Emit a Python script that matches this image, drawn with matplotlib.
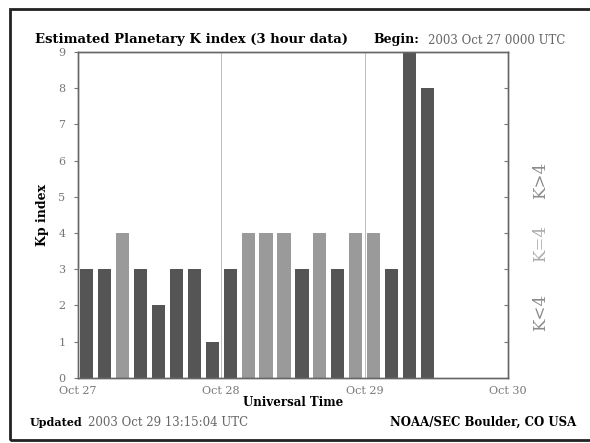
import matplotlib
matplotlib.use("Agg")
import matplotlib.pyplot as plt
import matplotlib.patches as mpatches

# ── DATA ──────────────────────────────────────────────────────────────────────
kp_values = [3, 3, 4, 3, 2, 3, 3, 1,
             3, 4, 4, 4, 3, 4, 3, 4,
             4, 3, 9, 8]
day_labels = ["Oct 27", "Oct 28", "Oct 29", "Oct 30"]
y_ticks = [0, 1, 2, 3, 4, 5, 6, 7, 8, 9]

# ── COLOURS ───────────────────────────────────────────────────────────────────
C_LOW = "#555555"    # K < 4
C_EQ = "#9a9a9a"     # K = 4
C_HIGH = "#555555"   # K > 4
C_TICK = "#777777"

plt.rcParams["font.family"] = ["DejaVu Serif"]

fig = plt.figure(figsize=(5.9, 4.43), dpi=100)
fig.patch.set_facecolor("white")
ax = fig.add_axes([0.132, 0.147, 0.729, 0.736])

# bars: 8 per day, x in days from Oct 27 00 UT
slot = 1.0 / 8
xs = [(i + 0.5) * slot for i in range(len(kp_values))]
cols = [C_LOW if k < 4 else (C_EQ if k == 4 else C_HIGH) for k in kp_values]
ax.bar(xs, kp_values, width=slot * 0.74, color=cols, edgecolor="none", zorder=2)

ax.set_xlim(0, 3)
ax.set_ylim(0, 9)
for d in (1, 2):
    ax.axvline(d, color="#bbbbbb", linewidth=0.7, zorder=1)

ax.set_yticks(y_ticks)
ax.set_yticklabels([str(v) for v in y_ticks], fontsize=8, color=C_TICK)
ax.tick_params(axis="y", direction="out", length=3, color=C_TICK,
               left=True, right=False, pad=6)
ax.set_xticks([0, 1, 2, 3])
ax.set_xticklabels(day_labels, fontsize=8, color=C_TICK)
ax.tick_params(axis="x", length=0, pad=6)

# right side inward ticks without labels
axr = ax.twinx()
axr.set_ylim(0, 9)
axr.set_yticks(y_ticks[1:-1])
axr.set_yticklabels([])
axr.tick_params(axis="y", direction="in", length=3, color=C_TICK)

for a in (ax, axr):
    for s in a.spines.values():
        s.set_color("#666666")
        s.set_linewidth(1.0)

ax.set_ylabel("Kp index", fontsize=9, fontweight="bold", labelpad=7)
ax.set_xlabel("Universal Time", fontsize=8.5, fontweight="bold", labelpad=0)

# ── TEXTS ─────────────────────────────────────────────────────────────────────
fig.text(35 / 590, 1 - 40 / 443, "Estimated Planetary K index (3 hour data)",
         fontsize=9.5, fontweight="bold", va="center", ha="left")
fig.text(373 / 590, 1 - 40 / 443, "Begin:", fontsize=9, fontweight="bold",
         va="center", ha="left")
fig.text(428 / 590, 1 - 40 / 443, "2003 Oct 27 0000 UTC", fontsize=8.5,
         color="#666666", va="center", ha="left")
fig.text(30 / 590, 1 - 422 / 443, "Updated", fontsize=8, fontweight="bold",
         va="center", ha="left")
fig.text(88 / 590, 1 - 422 / 443, "2003 Oct 29 13:15:04 UTC", fontsize=8.5,
         color="#666666", va="center", ha="left")
fig.text(576 / 590, 1 - 422 / 443, "NOAA/SEC Boulder, CO USA", fontsize=8.5,
         fontweight="bold", va="center", ha="right")

# legend text on right, rotated
fig.text(541 / 590, 1 - 312 / 443, "K<4", rotation=90, fontsize=12,
         color="#8a8a8a", va="center", ha="center")
fig.text(541 / 590, 1 - 243 / 443, "K=4", rotation=90, fontsize=12,
         color="#aaaaaa", va="center", ha="center")
fig.text(541 / 590, 1 - 180 / 443, "K>4", rotation=90, fontsize=12,
         color="#8a8a8a", va="center", ha="center")

# outer frame
frame = mpatches.Rectangle((10 / 590, 1 - 440 / 443), 590 / 590, 431 / 443,
                           transform=fig.transFigure, fill=False,
                           edgecolor="#222222", linewidth=2.0)
fig.patches.append(frame)

fig.savefig("out.png", dpi=100, facecolor="white")
